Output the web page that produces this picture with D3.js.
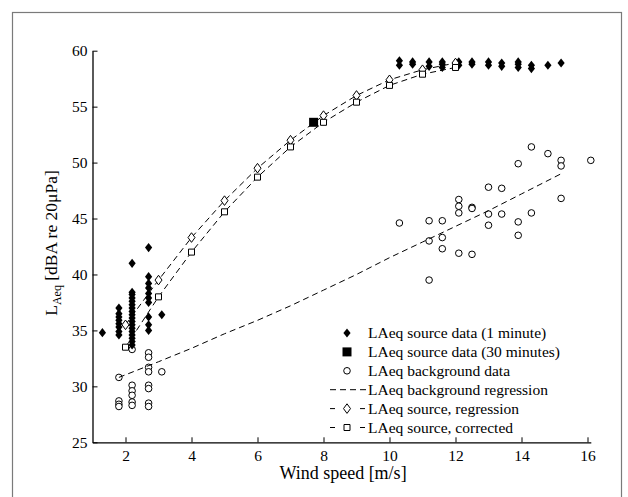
<!DOCTYPE html>
<html>
<head>
<meta charset="utf-8">
<script src="https://cdn.jsdelivr.net/npm/d3@7"></script>
<style>
  body { margin: 0; background: #fff; }
  text { font-family: "Liberation Serif", "Times New Roman", Times, serif; fill: #000; }
</style>
</head>
<body>
<div class="container"></div>
<script>
const wd = 628, ht = 497
const serif = "'Liberation Serif', 'Times New Roman', Times, serif"

// source data, 1 minute samples (wind speed, LAeq)
const srcX = [1.3,
  1.8,1.8,1.8,1.8,1.8,1.8,1.8,1.8,
  2.2,2.2,2.2,2.2,2.2,2.2,2.2,2.2,2.2,2.2,2.2,2.2,2.2,2.2,2.2,2.2,2.2,2.2,
  2.7,2.7,2.7,2.7,2.7,2.7,2.7,2.7,2.7,2.7,
  3.1,
  10.3,10.3,10.7,10.7,11.2,11.2,11.6,11.6,11.6,12.1,12.1,12.5,12.5,13.0,13.0,
  13.4,13.4,13.9,13.9,13.9,14.3,14.3,14.8,15.2]
const srcY = [34.8,
  34.6,34.9,35.3,35.6,35.9,36.2,36.5,37.0,
  33.7,34.0,34.3,34.6,34.9,35.2,35.5,35.8,36.1,36.4,36.7,37.0,37.3,37.6,37.9,38.2,38.4,41.0,
  35.0,35.5,36.2,37.5,37.9,38.3,38.8,39.2,39.8,42.4,
  36.4,
  58.7,59.1,58.8,59.0,58.6,59.0,58.5,58.8,59.0,58.7,59.0,58.8,59.0,58.7,59.0,
  58.6,58.9,58.5,58.8,59.0,58.4,58.7,58.7,58.9]

// source data, 30 minutes
const src30X = [7.7]
const src30Y = [53.6]

// background data
const bgX = [1.8,1.8,1.8,1.8,
  2.2,2.2,2.2,2.2,2.2,2.2,
  2.7,2.7,2.7,2.7,2.7,2.7,2.7,2.7,
  3.1,
  10.3,11.2,11.2,11.2,11.6,11.6,11.6,12.1,12.1,12.1,12.1,12.5,12.5,12.5,
  13.0,13.0,13.0,13.4,13.4,13.9,13.9,13.9,14.3,14.3,14.8,15.2,15.2,15.2,16.1]
const bgY = [30.8,28.7,28.4,28.2,
  33.3,30.1,29.6,29.2,28.6,28.3,
  33.0,32.6,31.7,31.3,30.1,29.8,28.5,28.2,
  31.3,
  44.6,44.8,43.0,39.5,44.8,43.3,42.3,46.7,46.1,45.5,41.9,46.0,45.9,41.8,
  47.8,45.4,44.4,47.7,45.4,49.9,44.7,43.5,51.4,45.5,50.8,50.2,49.7,46.8,50.2]

// background regression
const bgRegX = [1.8, 3, 4, 5, 6, 7, 8, 9, 10, 11, 12, 13, 14, 15.2]
const bgRegY = [30.8, 32.2, 33.4, 34.7, 35.9, 37.2, 38.6, 40.0, 41.5, 42.9, 44.3, 45.7, 47.2, 49.0]

// source regression and corrected source
const regX = [2, 3, 4, 5, 6, 7, 8, 9, 10, 11, 12]
const regY = [35.5, 39.5, 43.3, 46.6, 49.5, 52.0, 54.2, 56.0, 57.4, 58.3, 58.9]
const corY = [33.5, 38.0, 42.0, 45.6, 48.7, 51.4, 53.6, 55.4, 56.9, 57.9, 58.5]

const xTicks = [2, 4, 6, 8, 10, 12, 14, 16]
const yTicks = [25, 30, 35, 40, 45, 50, 55, 60]

const legendLabels = [
  "LAeq source data (1 minute)",
  "LAeq source data (30 minutes)",
  "LAeq background data",
  "LAeq background regression",
  "LAeq source, regression",
  "LAeq source, corrected"
]

const svg = d3.select(".container").append("svg")
  .attr("width", wd)
  .attr("height", ht)

// outer frame
svg.append("rect")
  .attr("x", 12.5).attr("y", 12.5)
  .attr("width", 609).attr("height", 520)
  .attr("fill", "none")
  .attr("stroke", "#7a7a7a")
  .attr("stroke-width", 1.2)

const xScale = d3.scaleLinear().domain([1, 16.1]).range([92.5, 590.8])
const yScale = d3.scaleLinear().domain([25, 60]).range([442.3, 50.7])

// axes
const xAxis = svg.append("g")
  .attr("transform", "translate(0," + yScale(25) + ")")
  .call(d3.axisBottom(xScale).tickValues(xTicks).tickSizeInner(-5).tickSizeOuter(0).tickPadding(6))
const yAxis = svg.append("g")
  .attr("transform", "translate(" + xScale(1) + ",0)")
  .call(d3.axisLeft(yScale).tickValues(yTicks).tickSizeInner(-5).tickSizeOuter(0).tickPadding(5))

xAxis.attr("font-family", serif).attr("font-size", 15.5)
yAxis.attr("font-family", serif).attr("font-size", 15.5)
svg.selectAll(".domain").attr("stroke", "#000").attr("stroke-width", 1.3)
svg.selectAll(".tick line").attr("stroke", "#000")
xAxis.selectAll(".tick text").attr("dy", "0.85em")

svg.append("text")
  .attr("x", 343).attr("y", 479)
  .attr("text-anchor", "middle")
  .style("font-size", "18px")
  .text("Wind speed [m/s]")

const ylab = svg.append("text")
  .attr("transform", "translate(57,243) rotate(-90)")
  .attr("text-anchor", "middle")
  .style("font-size", "17.5px")
ylab.append("tspan").text("L")
ylab.append("tspan").attr("dy", 4).style("font-size", "12px").text("Aeq")
ylab.append("tspan").attr("dy", -4).text(" [dBA re 20μPa]")

// marker shapes
function diamond(w, h) {
  return "M0," + (-h) + "L" + w + ",0L0," + h + "L" + (-w) + ",0Z"
}
function square(s) {
  return "M" + (-s) + "," + (-s) + "H" + s + "V" + s + "H" + (-s) + "Z"
}

const plot = svg.append("g")

// background data
plot.selectAll(".bg")
  .data(bgX.map((d, i) => ({x: d, y: bgY[i]})))
  .enter().append("circle")
  .attr("cx", d => xScale(d.x))
  .attr("cy", d => yScale(d.y))
  .attr("r", 3.3)
  .attr("fill", "#fff")
  .attr("stroke", "#000")
  .attr("stroke-width", 1)

// source 1 minute
plot.selectAll(".src")
  .data(srcX.map((d, i) => ({x: d, y: srcY[i]})))
  .enter().append("path")
  .attr("d", diamond(3.6, 4.6))
  .attr("transform", d => "translate(" + xScale(d.x) + "," + yScale(d.y) + ")")
  .attr("fill", "#000")

// regression lines
const line = d3.line().x(d => xScale(d.x)).y(d => yScale(d.y))
plot.append("path")
  .attr("d", line(bgRegX.map((d, i) => ({x: d, y: bgRegY[i]}))))
  .attr("fill", "none").attr("stroke", "#000").attr("stroke-width", 1)
  .attr("stroke-dasharray", "6,4")
plot.append("path")
  .attr("d", line(regX.map((d, i) => ({x: d, y: regY[i]}))))
  .attr("fill", "none").attr("stroke", "#000").attr("stroke-width", 1)
  .attr("stroke-dasharray", "6,4")
plot.append("path")
  .attr("d", line(regX.map((d, i) => ({x: d, y: corY[i]}))))
  .attr("fill", "none").attr("stroke", "#000").attr("stroke-width", 1)
  .attr("stroke-dasharray", "6,4")

// source 30 minutes
plot.selectAll(".src30")
  .data(src30X.map((d, i) => ({x: d, y: src30Y[i]})))
  .enter().append("path")
  .attr("d", square(4.5))
  .attr("transform", d => "translate(" + xScale(d.x) + "," + yScale(d.y) + ")")
  .attr("fill", "#000")

plot.selectAll(".reg")
  .data(regX.map((d, i) => ({x: d, y: regY[i]})))
  .enter().append("path")
  .attr("d", diamond(3.5, 4.8))
  .attr("transform", d => "translate(" + xScale(d.x) + "," + yScale(d.y) + ")")
  .attr("fill", "#fff").attr("stroke", "#000").attr("stroke-width", 1)

plot.selectAll(".cor")
  .data(regX.map((d, i) => ({x: d, y: corY[i]})))
  .enter().append("path")
  .attr("d", square(3))
  .attr("transform", d => "translate(" + xScale(d.x) + "," + yScale(d.y) + ")")
  .attr("fill", "#fff").attr("stroke", "#000").attr("stroke-width", 1)

// legend
const leg = svg.append("g").attr("transform", "translate(347,333)")
const rowH = 18.9
legendLabels.forEach((lab, i) => {
  const g = leg.append("g").attr("transform", "translate(0," + (i * rowH) + ")")
  if (i >= 3) {
    g.append("line").attr("x1", -17).attr("x2", 19)
      .attr("stroke", "#000").attr("stroke-width", 1)
      .attr("stroke-dasharray", i == 3 ? "6,4" : "5,10")
  }
  if (i == 0) g.append("path").attr("d", diamond(3.6, 4.6)).attr("fill", "#000")
  if (i == 1) g.append("path").attr("d", square(4.5)).attr("fill", "#000")
  if (i == 2) g.append("circle").attr("r", 3.3).attr("fill", "#fff").attr("stroke", "#000")
  if (i == 4) g.append("path").attr("d", diamond(3.5, 4.8)).attr("fill", "#fff").attr("stroke", "#000")
  if (i == 5) g.append("path").attr("d", square(3)).attr("fill", "#fff").attr("stroke", "#000")
  g.append("text")
    .attr("x", 21).attr("y", 5)
    .style("font-size", "15.5px")
    .text(lab)
})
</script>
</body>
</html>
